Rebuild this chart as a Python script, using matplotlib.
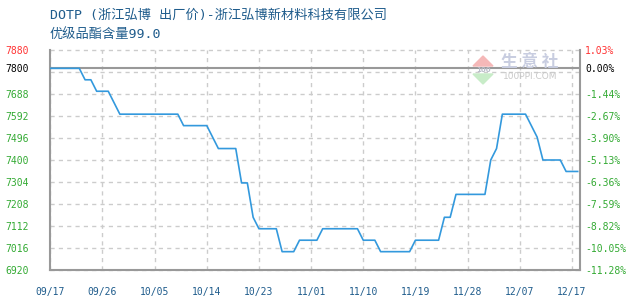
import numpy as np
import matplotlib
matplotlib.use("Agg")
import matplotlib.pyplot as plt

# daily price, 09/17 .. 12/17
prices = [7800, 7800, 7800, 7800, 7800, 7800, 7750, 7750, 7700, 7700,
          7700, 7650, 7600, 7600, 7600, 7600, 7600, 7600, 7600, 7600,
          7600, 7600, 7600, 7550, 7550, 7550, 7550, 7550, 7500, 7450,
          7450, 7450, 7450, 7300, 7300, 7150, 7100, 7100, 7100, 7100,
          7000, 7000, 7000, 7050, 7050, 7050, 7050, 7100, 7100, 7100,
          7100, 7100, 7100, 7100, 7050, 7050, 7050, 7000, 7000, 7000,
          7000, 7000, 7000, 7050, 7050, 7050, 7050, 7050, 7150, 7150,
          7250, 7250, 7250, 7250, 7250, 7250, 7400, 7450, 7600, 7600,
          7600, 7600, 7600, 7550, 7500, 7400, 7400, 7400, 7400, 7350,
          7350, 7350]
base_price = 7800

date_labels = ["09/17", "09/26", "10/05", "10/14", "10/23", "11/01",
               "11/10", "11/19", "11/28", "12/07", "12/17"]
date_idx = [0, 9, 18, 27, 36, 45, 54, 63, 72, 81, 90]

y_ticks = [7880, 7800, 7688, 7592, 7496, 7400, 7304, 7208, 7112, 7016, 6920]
y_grid = [6920 + 96 * k for k in range(11)]

title1 = "DOTP (浙江弘博 出厂价)-浙江弘博新材料科技有限公司"
title2 = "优级品酯含量99.0"

RED = "#ff3333"
GREEN = "#33aa33"
BLUE_TXT = "#1f5c8c"
GRID = "#cccccc"
FRAME = "#999999"


def tick_color(v):
    if v > base_price:
        return RED
    if v == base_price:
        return "black"
    return GREEN


fig = plt.figure(figsize=(6.3, 3.0), dpi=100)
ax = fig.add_axes([50.3 / 630, 1 - 270 / 300, (580 - 50.3) / 630, 220 / 300])

x = np.arange(len(prices))
ax.set_xlim(0, 91.4)
ax.set_ylim(6920, 7880)

for g in y_grid:
    ax.axhline(g, color=GRID, lw=1, ls=(0, (3, 3)), zorder=1, clip_on=False)
for i in date_idx:
    ax.axvline(i, color=GRID, lw=1, ls=(0, (3, 3)), zorder=1)
ax.axhline(base_price, color=FRAME, lw=1.5, zorder=2)

ax.plot(x, prices, color="#3399dd", lw=1.2, zorder=3)

for s in ["left", "bottom", "right"]:
    ax.spines[s].set_color(FRAME)
    ax.spines[s].set_linewidth(1.5)
ax.spines["top"].set_visible(False)

mono = "DejaVu Sans Mono"
ax.set_yticks(y_ticks)
ax.set_yticklabels([str(v) for v in y_ticks], fontsize=7, family=mono)
for lbl, v in zip(ax.get_yticklabels(), y_ticks):
    lbl.set_color(tick_color(v))
ax.tick_params(axis="y", length=0, pad=15.5)

ax.set_xticks(date_idx)
ax.set_xticklabels(date_labels, fontsize=7, family=mono, color=BLUE_TXT)
ax.tick_params(axis="x", length=0, pad=12)

ax2 = ax.twinx()
ax2.set_ylim(ax.get_ylim())
ax2.set_yticks(y_ticks)
ax2.set_yticklabels(["%.2f%%" % ((v - base_price) / base_price * 100) for v in y_ticks],
                    fontsize=7, family=mono)
for lbl, v in zip(ax2.get_yticklabels(), y_ticks):
    lbl.set_color(tick_color(v))
ax2.tick_params(axis="y", length=0, pad=3.6)
for s in ax2.spines.values():
    s.set_visible(False)

# title
tfont = ["DejaVu Sans Mono", "Noto Sans CJK SC"]
fig.text(50 / 630, 1 - 15 / 300, title1, fontsize=9.5, family=tfont,
         color=BLUE_TXT, va="center", ha="left")
fig.text(50 / 630, 1 - 34 / 300, title2, fontsize=9.5, family=tfont,
         color=BLUE_TXT, va="center", ha="left")

# watermark
tr = fig.transFigure
fig.patches.append(plt.Polygon([[473 / 630, 1 - 66 / 300], [493 / 630, 1 - 66 / 300],
                                [483 / 630, 1 - 56 / 300]], closed=True,
                               transform=tr, color="#f5b8b8", zorder=0))
fig.patches.append(plt.Polygon([[473 / 630, 1 - 74 / 300], [493 / 630, 1 - 74 / 300],
                                [483 / 630, 1 - 84 / 300]], closed=True,
                               transform=tr, color="#c8ecc8", zorder=0))
fig.text(483 / 630, 1 - 70 / 300, "100", fontsize=5, color="#b8bcc8",
         ha="center", va="center", family="DejaVu Sans", weight="bold")
fig.text(530 / 630, 1 - 62 / 300, "生 意 社", fontsize=12, color="#c8cde0",
         ha="center", va="center", family=["Noto Sans CJK SC"], weight="bold")
fig.text(530 / 630, 1 - 76 / 300, "100PPI.COM", fontsize=6.5, color="#c8c8c8",
         ha="center", va="center", family="DejaVu Sans")

fig.savefig("out.png", dpi=100)
